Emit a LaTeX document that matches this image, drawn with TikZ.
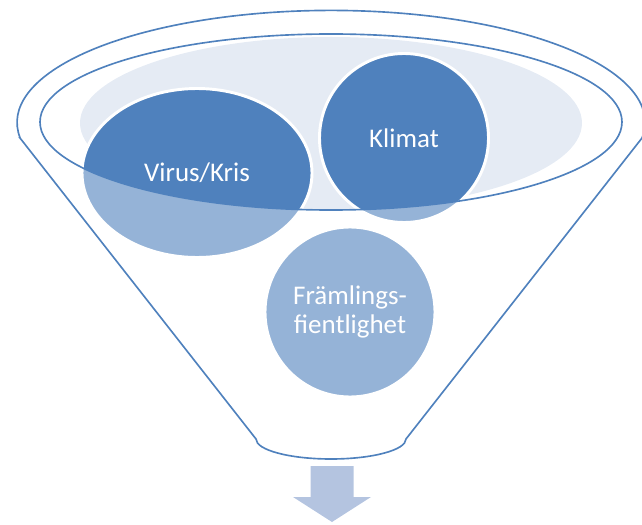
\documentclass[tikz,border=0pt]{standalone}
\usepackage{fontspec}
\setmainfont{Carlito}
\usetikzlibrary{shapes.geometric}
\definecolor{darkblue}{RGB}{79,129,189}
\definecolor{rimfill}{RGB}{229,235,244}
\definecolor{arrowblue}{RGB}{180,196,224}
\begin{document}
\begin{tikzpicture}[x=0.03cm, y=0.03cm, every node/.style={text=white, font=\fontsize{23}{24}\selectfont}]
				\useasboundingbox (0,0) rectangle (642,524);
				\fill[rimfill] (331,401) ellipse[x radius=251, y radius=86];
				\node[ellipse,
				minimum width = 6.9cm,
				minimum height = 5.07cm, inner sep=0pt, fill=darkblue, draw=white, line width=2.5pt] (1) at(197,351){Virus/Kris};
				\node[circle,
				minimum width = 5.07cm,
				minimum height = 5.07cm, inner sep=0pt, fill=darkblue, draw=white, line width=2.5pt] (2) at(404,386){Klimat};
				\node[circle,
				minimum width = 5.1cm,
				minimum height = 5.1cm, inner sep=0pt, fill=darkblue, draw=white, line width=2.5pt, align=center] (3) at(350,212){Främlings-\\fientlighet};
				\path[fill=white, fill opacity=0.4, even odd rule, draw=darkblue, line width=1.4pt]
				(20,386) -- (256,85) arc[start angle=180, end angle=360, x radius=75, y radius=20]
				-- (642,386) arc[start angle=-8, end angle=188, x radius=314, y radius=112] -- cycle
				(331,402) ellipse[x radius=291, y radius=88];
				\fill[arrowblue] (310.5,58) -- (353.5,58) -- (353.5,27) -- (371,27) -- (332,2) -- (293,27) -- (310.5,27) -- cycle;
			\end{tikzpicture}
\end{document}
